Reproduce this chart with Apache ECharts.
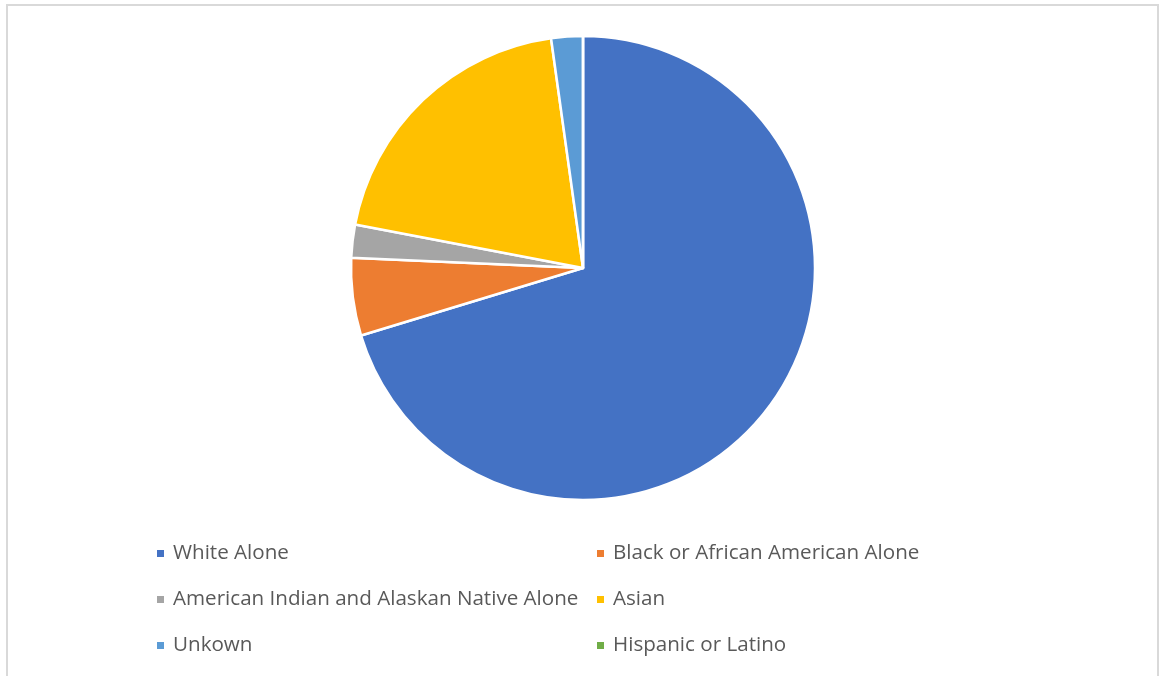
<!DOCTYPE html>
<html>
<head>
<meta charset="utf-8">
<script src="https://cdn.jsdelivr.net/npm/echarts@6/dist/echarts.min.js"></script>
<style>
html,body{margin:0;padding:0;background:#fff;}
#main{width:1160px;height:676px;}
</style>
</head>
<body>
<div id="main"></div>
<script>
const categories = ["White Alone","Black or African American Alone","American Indian and Alaskan Native Alone","Asian","Unkown","Hispanic or Latino"];
const values = [70.3, 5.4, 2.3, 19.8, 2.2, 0];
const colors = ["#4472C4","#ED7D31","#A5A5A5","#FFC000","#5B9BD5","#70AD47"];

const chart = echarts.init(document.getElementById('main'), null, {renderer:'canvas'});
const legendText = {fontFamily:'"Open Sans", "Noto Sans", sans-serif', fontSize:20.6, color:'#595959', lineHeight:20, padding:[0,0,0,3]};
const option = {
  animation:false,
  color: colors,
  graphic:[{type:'rect', shape:{x:7,y:5,width:1151,height:700}, style:{fill:'none', stroke:'#d9d9d9', lineWidth:2}, silent:true}],
  legend:[
    {orient:'vertical', left:150, top:538, itemWidth:9, itemHeight:9, itemGap:25, icon:'rect',
     data:[categories[0],categories[2],categories[4]], textStyle:legendText, selectedMode:false},
    {orient:'vertical', left:590, top:538, itemWidth:9, itemHeight:9, itemGap:25, icon:'rect',
     data:[categories[1],categories[3],categories[5]], textStyle:legendText, selectedMode:false}
  ],
  series:[{
    type:'pie',
    center:[583,268],
    radius:[0,232],
    startAngle:90,
    clockwise:true,
    label:{show:false},
    labelLine:{show:false},
    itemStyle:{borderColor:'#fff', borderWidth:2.5},
    data: categories.map((c,i)=>({name:c, value:values[i]}))
  }]
};
chart.setOption(option);
</script>
</body>
</html>
